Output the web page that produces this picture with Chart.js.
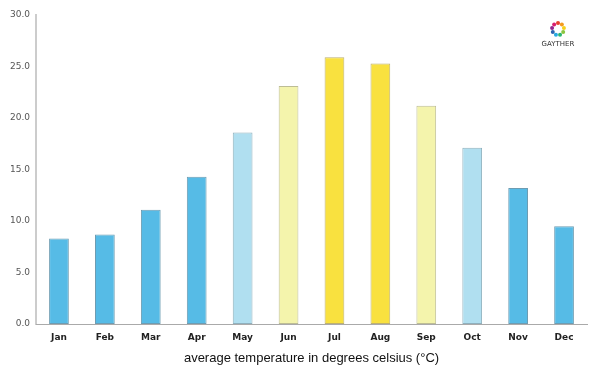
<!DOCTYPE html>
<html>
<head>
<meta charset="utf-8">
<script src="https://cdn.jsdelivr.net/npm/chart.js@4/dist/chart.umd.min.js"></script>
<style>
  html, body { margin: 0; padding: 0; background: #fff; }
  #wrap { width: 600px; height: 375px; }
</style>
</head>
<body>
<div id="wrap"><canvas id="tempChart"></canvas></div>
<script>
// chart data
const months = ["Jan", "Feb", "Mar", "Apr", "May", "Jun", "Jul", "Aug", "Sep", "Oct", "Nov", "Dec"];
const avgTemps = [8.3, 8.7, 11.1, 14.3, 18.6, 23.1, 25.9, 25.3, 21.2, 17.1, 13.2, 9.5];
const barColors = ["#56bbe6", "#56bbe6", "#56bbe6", "#56bbe6", "#b0dff0", "#f4f4ac",
  "#f9e13f", "#f9e13f", "#f4f4ac", "#b0dff0", "#56bbe6", "#56bbe6"];
const borderColors = ["#6d9cb2", "#6d9cb2", "#6d9cb2", "#6d9cb2", "#8fb0bd", "#bdbd95",
  "#bdb070", "#bdb070", "#bdbd95", "#8fb0bd", "#6d9cb2", "#6d9cb2"];
const axisTitle = "average temperature in degrees celsius (°C)";

// small logo in the top right corner
const logoPlugin = {
  id: "logo",
  afterDraw(chart) {
    const ctx = chart.ctx;
    const cx = 558, cy = 29, r = 6;
    const dots = ["#e8412c", "#f39a1e", "#f5d11a", "#8cc63f", "#2bb673", "#27aae1", "#2e63b0", "#92278f", "#d91f6e"];
    ctx.save();
    dots.forEach((c, i) => {
      const a = (i / dots.length) * Math.PI * 2 - Math.PI / 2;
      ctx.fillStyle = c;
      ctx.beginPath();
      ctx.arc(cx + Math.cos(a) * r, cy + Math.sin(a) * r, 2, 0, Math.PI * 2);
      ctx.fill();
    });
    ctx.fillStyle = "#333";
    ctx.font = "7px 'DejaVu Sans'";
    ctx.textAlign = "center";
    ctx.fillText("GAYTHER", cx, cy + 17);
    ctx.restore();
  }
};

const ctx = document.getElementById("tempChart").getContext("2d");
new Chart(ctx, {
  type: "bar",
  data: {
    labels: months,
    datasets: [{
      data: avgTemps,
      backgroundColor: barColors,
      borderColor: borderColors,
      borderWidth: 1,
      borderSkipped: false,
      barPercentage: 0.43,
      categoryPercentage: 1.0
    }]
  },
  options: {
    responsive: true,
    maintainAspectRatio: false,
    animation: false,
    layout: { padding: { top: 15, right: 13, left: 0, bottom: 0 } },
    plugins: {
      legend: { display: false },
      tooltip: { enabled: false }
    },
    scales: {
      y: {
        min: 0,
        max: 30,
        ticks: {
          stepSize: 5,
          color: "#555",
          font: { family: "'DejaVu Sans'", size: 9 },
          padding: 6,
          callback: (v) => v.toFixed(1)
        },
        grid: { display: false, drawTicks: false },
        border: { color: "#cccccc", width: 2 },
        afterFit: (scale) => { scale.width = 36; }
      },
      x: {
        ticks: {
          color: "#222",
          font: { family: "'DejaVu Sans'", size: 9, weight: "bold" },
          padding: 8
        },
        grid: { display: false, drawTicks: false },
        border: { color: "#aaaaaa", width: 1 },
        title: {
          display: true,
          text: axisTitle,
          color: "#111",
          font: { family: "'Liberation Sans'", size: 13 },
          padding: { top: 4, bottom: 9 }
        },
        afterFit: (scale) => { scale.height = 51; }
      }
    }
  },
  plugins: [logoPlugin]
});
</script>
</body>
</html>
